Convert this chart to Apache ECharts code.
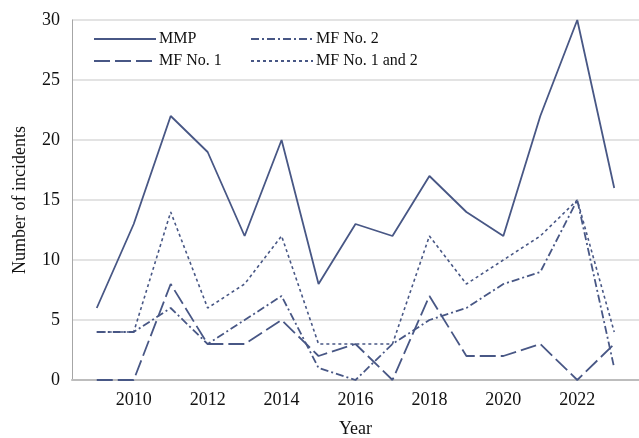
<!DOCTYPE html>
<html>
<head>
<meta charset="utf-8">
<script src="https://cdn.jsdelivr.net/npm/echarts@6/dist/echarts.min.js"></script>
<style>
html,body{margin:0;padding:0;background:#fff;}
#c{width:639px;height:438px;}
</style>
</head>
<body>
<div id="c"></div>
<script>
var years = [2009,2010,2011,2012,2013,2014,2015,2016,2017,2018,2019,2020,2021,2022,2023];
var mmp = [6,13,22,19,12,20,8,13,12,17,14,12,22,30,16];
var mf1 = [0,0,8,3,3,5,2,3,0,7,2,2,3,0,3];
var mf2 = [4,4,6,3,5,7,1,0,3,5,6,8,9,15,1];
var mf12 = [4,4,14,6,8,12,3,3,3,12,8,10,12,15,4];
var xTickLabels = [2010,2012,2014,2016,2018,2020,2022];
var yTicks = [0,5,10,15,20,25,30];

function pairs(vals){ return years.map(function(y,i){ return [y, vals[i]]; }); }

var col = '#485785';
var font = 'Liberation Serif';
var chart = echarts.init(document.getElementById('c'), null, {renderer:'canvas'});
function ser(name, vals, type, w){
  return {name:name, type:'line', data:pairs(vals), symbol:'none', silent:true,
    lineStyle:{color:col, width:w, type:type}, itemStyle:{color:col}};
}
var legendCommon = {orient:'vertical', top:26, itemWidth:62, itemHeight:14, itemGap:6,
  itemStyle:{opacity:0}, textStyle:{fontFamily:font, fontSize:16, color:'#111', padding:[0,0,0,-2]}};
chart.setOption({
  animation:false,
  backgroundColor:'#fff',
  grid:{left:72, top:20, right:0, bottom:58, containLabel:false, outerBoundsMode:'none'},
  legend:[
    Object.assign({data:['MMP','MF No. 1'], left:88}, legendCommon),
    Object.assign({data:['MF No. 2','MF No. 1 and 2'], left:245}, legendCommon)
  ],
  xAxis:{type:'value', min:2008.33, max:2023.67,
    name:'Year', nameLocation:'middle', nameGap:40,
    nameTextStyle:{fontFamily:font, fontSize:18, color:'#111'},
    axisLine:{show:true, lineStyle:{color:'#bdbdbd', width:2}},
    axisTick:{show:false},
    splitLine:{show:false},
    axisLabel:{customValues:xTickLabels, fontFamily:font, fontSize:18, color:'#111', margin:11,
      formatter:function(v){return String(v);}}
  },
  yAxis:{type:'value', min:0, max:30, interval:5,
    name:'Number of incidents', nameLocation:'middle', nameGap:43, nameRotate:90,
    nameTextStyle:{fontFamily:font, fontSize:18, color:'#111'},
    axisLine:{show:true, lineStyle:{color:'#a6a6a6', width:1}},
    axisTick:{show:false},
    splitLine:{show:true, lineStyle:{color:'#dadada', width:1.5}},
    axisLabel:{customValues:yTicks, fontFamily:font, fontSize:18, color:'#111', margin:12}
  },
  series:[
    ser('MMP', mmp, 'solid', 1.8),
    ser('MF No. 1', mf1, [16,5], 1.8),
    ser('MF No. 2', mf2, [8,3,2,3], 1.8),
    ser('MF No. 1 and 2', mf12, [3,3], 1.6)
  ]
});
</script>
</body>
</html>
